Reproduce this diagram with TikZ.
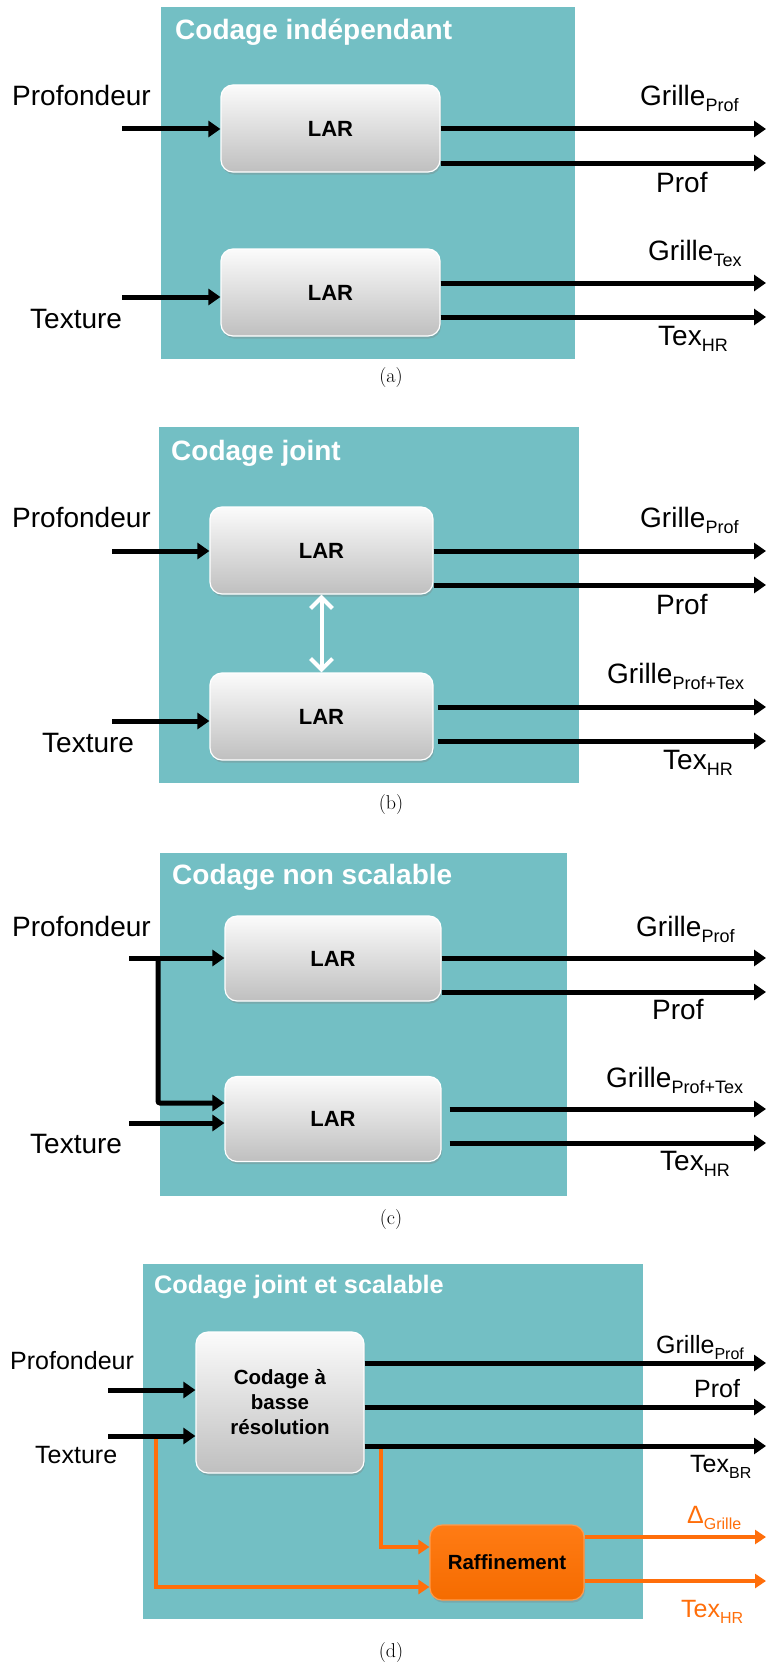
\documentclass[tikz,border=0pt]{standalone}
\usepackage{fontspec}
\newfontfamily\arial{Liberation Sans}
\usetikzlibrary{arrows.meta, positioning, shadows}
\definecolor{PanelTeal}{HTML}{73BFC4}
\definecolor{RefOrange}{HTML}{FF6E0A}
\definecolor{BoxOrange}{HTML}{FF7000}
\newcommand{\sublab}[3][18]{#2\raisebox{-6pt}{\fontsize{#1}{#1}\selectfont #3}}

\begin{document}
\begin{tikzpicture}[x=1pt, y=-1pt,
  lar/.style={draw=white, line width=1.2pt, rounded corners=12pt, top color=gray!3, bottom color=gray!50,
    drop shadow={opacity=0.35, shadow xshift=1pt, shadow yshift=-2.5pt},
    font=\arial\bfseries\fontsize{22}{22}\selectfont, inner sep=0pt, align=center},
  raf/.style={lar, draw=BoxOrange!70!white, top color=BoxOrange!92!white, bottom color=BoxOrange!96!black,
    font=\arial\bfseries\fontsize{20.5}{25}\selectfont},
  arr/.style={-{Triangle[length=12pt,width=16pt]}, line width=5pt},
  oarr/.style={-{Triangle[length=11pt,width=14pt]}, line width=4pt, RefOrange},
  dbl/.style={{Straight Barb[length=11pt,width=22pt]}-{Straight Barb[length=11pt,width=22pt]}, line width=4pt, white},
  io/.style={font=\arial\fontsize{28}{28}\selectfont, inner sep=0pt, anchor=base west},
  iod/.style={io, font=\arial\fontsize{25}{25}\selectfont},
  ttl/.style={font=\arial\bfseries\fontsize{28}{28}\selectfont, text=white, inner sep=0pt, anchor=base west},
  captxt/.style={font=\fontsize{20}{20}\selectfont, inner sep=0pt},
]
\useasboundingbox (0,0) rectangle (767,1667);

% (a) codage independant
\fill[PanelTeal] (161,7) rectangle (575,359);
\node[ttl] (ta) at (175,40) {Codage indépendant};
\node[lar, minimum width=219pt, minimum height=87pt] (a1) at (330.5,128.5) {LAR};
\node[lar, minimum width=219pt, minimum height=87pt] (a2) at (330.5,292.5) {LAR};
\coordinate (ai1) at (122,129);
\coordinate (ai2) at (122,297);
\draw[arr] (ai1) -- (ai1 -| a1.west);
\draw[arr] (ai2) -- (ai2 -| a2.west);
\foreach \y/\n in {129/1,163/2,283/3,317/4} \coordinate (ao\n) at (766,\y);
\draw[arr] (ao1 -| a1.east) -- (ao1);
\draw[arr] (ao2 -| a1.east) -- (ao2);
\draw[arr] (ao3 -| a2.east) -- (ao3);
\draw[arr] (ao4 -| a2.east) -- (ao4);
\node[io] (la1) at (12,106) {Profondeur};
\node[io] (la2) at (30,328) {Texture};
\node[io] (la3) at (640,106) {\sublab{Grille}{Prof}};
\node[io] (la4) at (656,192) {Prof};
\node[io] (la5) at (648,260) {\sublab{Grille}{Tex}};
\node[io] (la6) at (658,345) {\sublab{Tex}{HR}};
\node[captxt] (capa) at (391,378) {(a)};

% (b) codage joint
\fill[PanelTeal] (159,427) rectangle (579,783);
\node[ttl] (tb) at (171,460) {Codage joint};
\node[lar, minimum width=223pt, minimum height=87pt] (b1) at (321.5,550.5) {LAR};
\node[lar, minimum width=223pt, minimum height=87pt] (b2) at (321.5,716.5) {LAR};
\coordinate (bi1) at (112,551);
\coordinate (bi2) at (112,721);
\draw[arr] (bi1) -- (bi1 -| b1.west);
\draw[arr] (bi2) -- (bi2 -| b2.west);
\foreach \y/\n in {551/1,585/2,707/3,741/4} \coordinate (bo\n) at (766,\y);
\draw[arr] (bo1 -| b1.east) -- (bo1);
\draw[arr] (bo2 -| b1.east) -- (bo2);
\draw[arr] ([xshift=4pt]bo3 -| b2.east) -- (bo3);
\draw[arr] ([xshift=4pt]bo4 -| b2.east) -- (bo4);
\draw[dbl] (b1.south) -- (b2.north);
\node[io] (lb1) at (12,527) {Profondeur};
\node[io] (lb2) at (42,752) {Texture};
\node[io] (lb3) at (640,527) {\sublab{Grille}{Prof}};
\node[io] (lb4) at (656,614) {Prof};
\node[io] (lb5) at (607,683) {\sublab{Grille}{Prof+Tex}};
\node[io] (lb6) at (663,769) {\sublab{Tex}{HR}};
\node[captxt] (capb) at (391,805) {(b)};

% (c) codage non scalable
\fill[PanelTeal] (160,853) rectangle (567,1196);
\node[ttl] (tc) at (172,884) {Codage non scalable};
\node[lar, minimum width=216pt, minimum height=85pt] (c1) at (333,958.5) {LAR};
\node[lar, minimum width=216pt, minimum height=85pt] (c2) at (333,1119) {LAR};
\coordinate (ci1) at (129,958);
\coordinate (ci2) at (129,1123);
\coordinate (cb) at (158,958);
\coordinate (cj) at (158,1103);
\draw[arr] (ci1) -- (ci1 -| c1.west);
\draw[arr, rounded corners=2pt] (cb) -- (cj) -- (cj -| c2.west);
\draw[arr] (ci2) -- (ci2 -| c2.west);
\foreach \y/\n in {958/1,992/2,1109/3,1143/4} \coordinate (co\n) at (766,\y);
\draw[arr] (co1 -| c1.east) -- (co1);
\draw[arr] (co2 -| c1.east) -- (co2);
\draw[arr] ([xshift=8pt]co3 -| c2.east) -- (co3);
\draw[arr] ([xshift=8pt]co4 -| c2.east) -- (co4);
\node[io] (lc1) at (12,936) {Profondeur};
\node[io] (lc2) at (30,1153) {Texture};
\node[io] (lc3) at (636,936) {\sublab{Grille}{Prof}};
\node[io] (lc4) at (652,1019) {Prof};
\node[io] (lc5) at (606,1087) {\sublab{Grille}{Prof+Tex}};
\node[io] (lc6) at (660,1170) {\sublab{Tex}{HR}};
\node[captxt] (capc) at (391,1219) {(c)};

% (d) codage joint et scalable
\fill[PanelTeal] (143,1264) rectangle (643,1619);
\node[ttl, font=\arial\bfseries\fontsize{25.3}{25}\selectfont] (td) at (154,1293) {Codage joint et scalable};
\node[lar, minimum width=168pt, minimum height=141pt, font=\arial\bfseries\fontsize{20.5}{25}\selectfont] (d1) at (280,1402.5) {Codage à\\basse\\résolution};
\node[raf, minimum width=154pt, minimum height=75pt] (d2) at (507,1562.5) {Raffinement};
\coordinate (di1) at (108,1390);
\coordinate (di2) at (108,1436);
\coordinate (db1) at (381,1446);
\coordinate (db2) at (381,1547);
\coordinate (dt1) at (156,1436);
\coordinate (dt2) at (156,1587);
% orange refinement paths
\draw[oarr] (db1) -- (db2) -- (db2 -| d2.west);
\draw[oarr] (dt1) -- (dt2) -- (dt2 -| d2.west);
\draw[arr] (di1) -- (di1 -| d1.west);
\draw[arr] (di2) -- (di2 -| d1.west);
\foreach \y/\n in {1363/1,1407/2,1446/3} \coordinate (do\n) at (766,\y);
\draw[arr] (do1 -| d1.east) -- (do1);
\draw[arr] (do2 -| d1.east) -- (do2);
\draw[arr] (do3 -| d1.east) -- (do3);
\coordinate (dr1) at (766,1537);
\coordinate (dr2) at (766,1581);
\draw[oarr] (dr1 -| d2.east) -- (dr1);
\draw[oarr] (dr2 -| d2.east) -- (dr2);
\node[iod] (ld1) at (10,1369) {Profondeur};
\node[iod] (ld2) at (35,1463) {Texture};
\node[iod] (ld3) at (656,1353) {\sublab[16]{Grille}{Prof}};
\node[iod] (ld4) at (694,1397) {Prof};
\node[iod] (ld5) at (690,1472) {\sublab[16]{Tex}{BR}};
\node[iod, text=RefOrange] (ld6) at (687,1523) {\sublab[16]{Δ}{Grille}};
\node[iod, text=RefOrange] (ld7) at (681,1617) {\sublab[16]{Tex}{HR}};
\node[captxt] (capd) at (391,1652) {(d)};
\end{tikzpicture}
\end{document}
